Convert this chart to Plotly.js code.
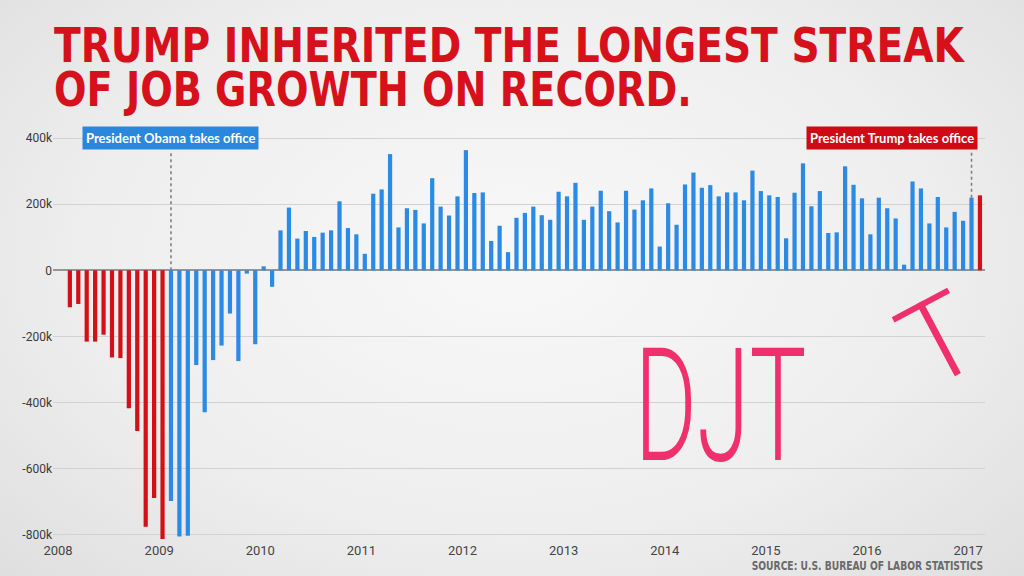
<!DOCTYPE html>
<html>
<head>
<meta charset="utf-8">
<script src="https://cdn.plot.ly/plotly-3.0.1.min.js"></script>
<style>
  html, body { margin: 0; padding: 0; width: 1024px; height: 576px; overflow: hidden; }
  body { background: radial-gradient(ellipse 75% 85% at 50% 45%, #f8f8f8 0%, #eeeeee 55%, #dcdcdc 100%); }
  #chart { width: 1024px; height: 576px; }
</style>
</head>
<body>
<div id="chart"></div>
<script>
// Monthly change in nonfarm payrolls (thousands), Jan 2008 .. Jan 2017
const jobs2008 = [-112, -102, -216, -216, -195, -264, -266, -418, -487, -777, -690, -814];
const jobs2009 = [-699, -806, -804, -287, -430, -272, -228, -131, -275, -10, -224, 12];
const jobs2010 = [-50, 121, 190, 96, 119, 101, 114, 121, 209, 128, 109, 50];
const jobs2011 = [232, 245, 352, 130, 188, 183, 142, 279, 193, 166, 224, 364];
const jobs2012 = [234, 236, 89, 135, 55, 159, 174, 193, 167, 153, 238, 224];
const jobs2013 = [265, 153, 193, 241, 179, 145, 241, 184, 212, 248, 72, 203];
const jobs2014 = [138, 260, 296, 250, 258, 224, 236, 236, 212, 302, 240, 227];
const jobs2015 = [222, 97, 235, 324, 194, 240, 113, 115, 315, 259, 218, 109];
const jobs2016 = [220, 188, 157, 17, 269, 248, 142, 222, 130, 177, 150, 220];
const jobs2017 = [227];

const years = ['2008', '2009', '2010', '2011', '2012', '2013', '2014', '2015', '2016', '2017'];
const yTickVals = [-800, -600, -400, -200, 0, 200, 400];
const yTickText = ['-800k', '-600k', '-400k', '-200k', '0', '200k', '400k'];

// event months (index into the monthly series)
const obamaIndex = 12;   // Jan 2009
const trumpIndex = 108;  // Jan 2017
const obamaLabel = 'President Obama takes office';
const trumpLabel = 'President Trump takes office';
const titleLine1 = 'TRUMP INHERITED THE LONGEST STREAK';
const titleLine2 = 'OF JOB GROWTH ON RECORD.';
const sourceText = 'SOURCE: U.S. BUREAU OF LABOR STATISTICS';

const values = [].concat(jobs2008, jobs2009, jobs2010, jobs2011, jobs2012,
                         jobs2013, jobs2014, jobs2015, jobs2016, jobs2017);
const xIdx = values.map((v, i) => i);
const RED = '#d30f17';
const BLUE = '#2b8ae4';
const colors = values.map((v, i) => (i < obamaIndex || i >= trumpIndex) ? RED : BLUE);

const tickVals = years.map((y, k) => k * 12 - 1.4);

const trace = {
  type: 'bar',
  x: xIdx,
  y: values,
  marker: { color: colors, line: { width: 0 } },
  hoverinfo: 'skip'
};

const condBold = '"DejaVu Sans Condensed", "DejaVu Sans", sans-serif';

const layout = {
  width: 1024,
  height: 576,
  margin: { l: 53, r: 39, t: 130, b: 35 },
  paper_bgcolor: 'rgba(0,0,0,0)',
  plot_bgcolor: 'rgba(0,0,0,0)',
  showlegend: false,
  bargap: 0.5,
  xaxis: {
    range: [-2, 108.6],
    tickvals: tickVals,
    ticktext: years,
    showgrid: false,
    zeroline: false,
    showline: false,
    ticks: '',
    tickfont: { family: 'Roboto, sans-serif', size: 13, color: '#444444' }
  },
  yaxis: {
    range: [-820, 425],
    tickvals: yTickVals,
    ticktext: yTickText,
    showgrid: true,
    gridcolor: '#d2d2d2',
    gridwidth: 1,
    zeroline: true,
    zerolinecolor: '#959595',
    zerolinewidth: 2,
    showline: false,
    ticks: '',
    tickfont: { family: 'Roboto, sans-serif', size: 12, color: '#3a3a3a' }
  },
  shapes: [
    { type: 'line', xref: 'x', yref: 'y', x0: obamaIndex, x1: obamaIndex, y0: 0, y1: 364,
      line: { color: '#7a7a7a', width: 1.5, dash: 'dot' } },
    { type: 'line', xref: 'x', yref: 'y', x0: trumpIndex - 1, x1: trumpIndex - 1,
      y0: values[trumpIndex - 1], y1: 364,
      line: { color: '#7a7a7a', width: 1.5, dash: 'dot' } }
  ],
  annotations: [
    { text: titleLine1, xref: 'paper', yref: 'paper', x: -0.001, y: 1.2056,
      xanchor: 'left', yanchor: 'middle', align: 'left', showarrow: false,
      font: { family: condBold, size: 48, color: '#d6111c', weight: 'bold' } },
    { text: titleLine2, xref: 'paper', yref: 'paper', x: -0.001, y: 1.0998,
      xanchor: 'left', yanchor: 'middle', align: 'left', showarrow: false,
      font: { family: condBold, size: 48, color: '#d6111c', weight: 'bold' } },
    { text: obamaLabel, xref: 'x', yref: 'y', x: obamaIndex, y: 400,
      xanchor: 'center', yanchor: 'middle', showarrow: false,
      bgcolor: '#2a87de', borderpad: 3,
      font: { family: 'Lato, sans-serif', size: 13, color: '#ffffff', weight: 'bold' } },
    { text: trumpLabel, xref: 'x', yref: 'y', x: trumpIndex - 1, y: 400, xshift: 6,
      xanchor: 'right', yanchor: 'middle', showarrow: false,
      bgcolor: '#cf0a14', borderpad: 3,
      font: { family: 'Lato, sans-serif', size: 13, color: '#ffffff', weight: 'bold' } },
    { text: sourceText, xref: 'paper', yref: 'paper', x: 1.0, y: -0.0608,
      xanchor: 'right', yanchor: 'middle', align: 'right', showarrow: false,
      font: { family: condBold, size: 12, color: '#6a6a6a', weight: 'bold' } },
    { text: 'DJT', xref: 'paper', yref: 'paper', x: 0.7157, y: 0.328,
      xanchor: 'center', yanchor: 'middle', align: 'center', showarrow: false,
      font: { family: 'Roboto, sans-serif', size: 158, color: '#f0306c', weight: 300 } },
    { text: 'T', xref: 'paper', yref: 'paper', x: 0.9517, y: 0.49, textangle: -28,
      xanchor: 'center', yanchor: 'middle', align: 'center', showarrow: false,
      font: { family: 'Roboto, sans-serif', size: 115, color: '#f0306c', weight: 300 } }
  ]
};

// widths (px) of the reference lettering: squeeze the drawn text horizontally to match
const fitLengths = { 0: 910, 1: 638, 4: 232, 5: 172 };

Plotly.newPlot('chart', [trace], layout, { displayModeBar: false, staticPlot: true }).then(gd => {
  gd.querySelectorAll('g.annotation').forEach(g => {
    const i = +g.getAttribute('data-index');
    const t = g.querySelector('text.annotation-text');
    if (!t || fitLengths[i] === undefined) return;
    const natural = t.getComputedTextLength();
    if (!natural) return;
    const s = fitLengths[i] / natural;
    const ax = parseFloat(t.getAttribute('x')) || 0;
    const prev = t.getAttribute('transform') || '';
    t.setAttribute('transform', prev + ` translate(${ax},0) scale(${s},1) translate(${-ax},0)`);
  });
});
</script>
</body>
</html>
